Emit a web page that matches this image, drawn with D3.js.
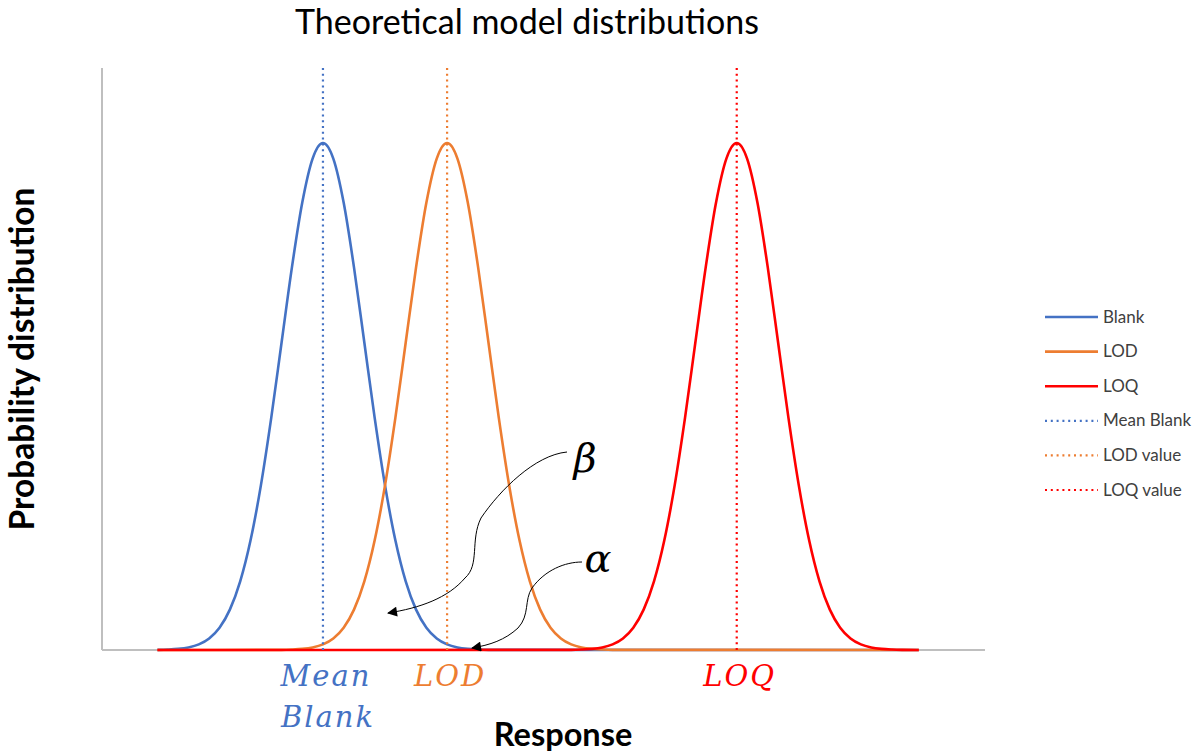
<!DOCTYPE html>
<html>
<head>
<meta charset="utf-8">
<script src="https://cdn.jsdelivr.net/npm/d3@7"></script>
<style>
  html, body { margin: 0; padding: 0; background: #fff; }
  svg { display: block; }
</style>
</head>
<body>
<svg id="chart" width="1201" height="755"></svg>
<script>
// Distribution centres, in units of the blank standard deviation
const seriesNames = ["Blank", "LOD", "LOQ"];
const seriesMeans = [0, 3, 10];
const markerNames = ["Mean Blank", "LOD value", "LOQ value"];
const markerLabels = [["Mean", "Blank"], ["LOD"], ["LOQ"]];

// Relative height of each bell curve at offsets from its centre
const profileOffsets = [-4, -3.75, -3.5, -3.25, -3, -2.75, -2.5, -2.25, -2, -1.75, -1.5, -1.25, -1, -0.75, -0.5, -0.25,
  0, 0.25, 0.5, 0.75, 1, 1.25, 1.5, 1.75, 2, 2.25, 2.5, 2.75, 3, 3.25, 3.5, 3.75, 4];
const profileHeights = [0.0003, 0.0009, 0.0022, 0.0051, 0.0111, 0.0228, 0.0439, 0.0796, 0.1353, 0.2163, 0.3247, 0.4578, 0.6065, 0.7548, 0.8825, 0.9692,
  1, 0.9692, 0.8825, 0.7548, 0.6065, 0.4578, 0.3247, 0.2163, 0.1353, 0.0796, 0.0439, 0.0228, 0.0111, 0.0051, 0.0022, 0.0009, 0.0003];

// Response range covered by every series, and the axis extents
const responseRange = [-4, 14.4];
const xDomain = [-5.34, 16];
const yDomain = [0, 1.148];

const colors = ["#4472C4", "#ED7D31", "#FF0000"];
const sansFont = "Lato, 'Open Sans', sans-serif";
const mathFont = "'DejaVu Serif', serif";

const svg = d3.select("#chart");
const x = d3.scaleLinear().domain(xDomain).range([102, 985]);
const y = d3.scaleLinear().domain(yDomain).range([650, 68]);

// Build each series: flat baseline, bell profile around its mean, flat baseline
function seriesPoints(mean) {
  const pts = [];
  const lo = mean + profileOffsets[0];
  const hi = mean + profileOffsets[profileOffsets.length - 1];
  if (responseRange[0] < lo) pts.push([responseRange[0], 0]);
  profileOffsets.forEach((o, i) => {
    const v = mean + o;
    if (v >= responseRange[0] && v <= responseRange[1]) pts.push([v, profileHeights[i]]);
  });
  if (responseRange[1] > hi) pts.push([responseRange[1], 0]);
  return pts;
}

// Axes (plain lines, no ticks)
svg.append("line").attr("x1", x(xDomain[0])).attr("x2", x(xDomain[0]))
  .attr("y1", y(yDomain[0])).attr("y2", y(yDomain[1]))
  .attr("stroke", "#BFBFBF").attr("stroke-width", 2);
svg.append("line").attr("x1", x(xDomain[0])).attr("x2", x(xDomain[1]))
  .attr("y1", y(0)).attr("y2", y(0))
  .attr("stroke", "#BFBFBF").attr("stroke-width", 2);

const line = d3.line().x(d => x(d[0])).y(d => y(d[1])).curve(d3.curveMonotoneX);

seriesMeans.forEach((m, i) => {
  svg.append("path")
    .datum(seriesPoints(m))
    .attr("d", line)
    .attr("fill", "none")
    .attr("stroke", colors[i])
    .attr("stroke-width", 2.6)
    .attr("stroke-linejoin", "round");
});

// Vertical dotted markers at each mean
seriesMeans.forEach((m, i) => {
  svg.append("line")
    .attr("x1", x(m)).attr("x2", x(m))
    .attr("y1", y(0)).attr("y2", y(yDomain[1]))
    .attr("stroke", colors[i])
    .attr("stroke-width", 2.2)
    .attr("stroke-dasharray", "2,3.8");
});

// Title and axis titles
svg.append("text").attr("x", 527).attr("y", 34)
  .attr("text-anchor", "middle")
  .style("font-family", sansFont)
  .style("font-size", "34px").attr("fill", "#000")
  .text("Theoretical model distributions");

svg.append("text")
  .attr("transform", "translate(34,359) rotate(-90)")
  .attr("text-anchor", "middle")
  .style("font-family", sansFont)
  .style("font-weight", "bold")
  .style("font-size", "33.5px").attr("fill", "#000")
  .text("Probability distribution");

svg.append("text").attr("x", 563).attr("y", 746)
  .attr("text-anchor", "middle")
  .style("font-family", sansFont)
  .style("font-weight", "bold")
  .style("font-size", "32.5px").attr("fill", "#000")
  .text("Response");

// Italic math labels under the markers
seriesMeans.forEach((m, i) => {
  markerLabels[i].forEach((t, j) => {
    svg.append("text")
      .attr("x", x(m) + (j === 1 ? 5 : 3))
      .attr("y", 686 + j * 41)
      .attr("text-anchor", "middle")
      .style("font-family", mathFont)
      .style("font-style", "italic")
      .style("font-size", "29px")
      .style("letter-spacing", "2px")
      .attr("fill", colors[i])
      .text(t);
  });
});

// Annotation arrows for beta and alpha
const defs = svg.append("defs");
defs.append("marker").attr("id", "arrowhead")
  .attr("viewBox", "0 0 10 10").attr("refX", 9).attr("refY", 5)
  .attr("markerWidth", 12).attr("markerHeight", 10)
  .attr("markerUnits", "userSpaceOnUse")
  .attr("orient", "auto")
  .append("path").attr("d", "M0,0 L10,5 L0,10 Z").attr("fill", "#000");

svg.append("path")
  .attr("d", "M567,452 C535,455 500,490 481,518 C470,540 480,565 465,578 C448,598 420,608 388,613")
  .attr("fill", "none").attr("stroke", "#000").attr("stroke-width", 1)
  .attr("marker-end", "url(#arrowhead)");

svg.append("path")
  .attr("d", "M582,562 C565,562 545,570 532,588 C524,600 530,615 518,628 C505,640 490,645 472,648")
  .attr("fill", "none").attr("stroke", "#000").attr("stroke-width", 1)
  .attr("marker-end", "url(#arrowhead)");

svg.append("text").attr("x", 585).attr("y", 472)
  .attr("text-anchor", "middle")
  .style("font-family", mathFont).style("font-style", "italic")
  .style("font-size", "40px").attr("fill", "#000").text("β");
svg.append("text").attr("x", 598).attr("y", 572)
  .attr("text-anchor", "middle")
  .style("font-family", mathFont).style("font-style", "italic")
  .style("font-size", "40px").attr("fill", "#000").text("α");

// Legend
const legendItems = seriesNames.map((n, i) => ({ name: n, color: colors[i], dotted: false }))
  .concat(markerNames.map((n, i) => ({ name: n, color: colors[i], dotted: true })));
const legend = svg.append("g");
legendItems.forEach((d, i) => {
  const yy = 317 + i * 34.6;
  legend.append("line").attr("x1", 1045).attr("x2", 1098).attr("y1", yy).attr("y2", yy)
    .attr("stroke", d.color).attr("stroke-width", d.dotted ? 2.2 : 2.6)
    .attr("stroke-dasharray", d.dotted ? "2,3.8" : null);
  legend.append("text").attr("x", 1103).attr("y", yy + 5.5)
    .style("font-family", sansFont)
    .style("font-size", "17px").attr("fill", "#404040").text(d.name);
});
</script>
</body>
</html>
